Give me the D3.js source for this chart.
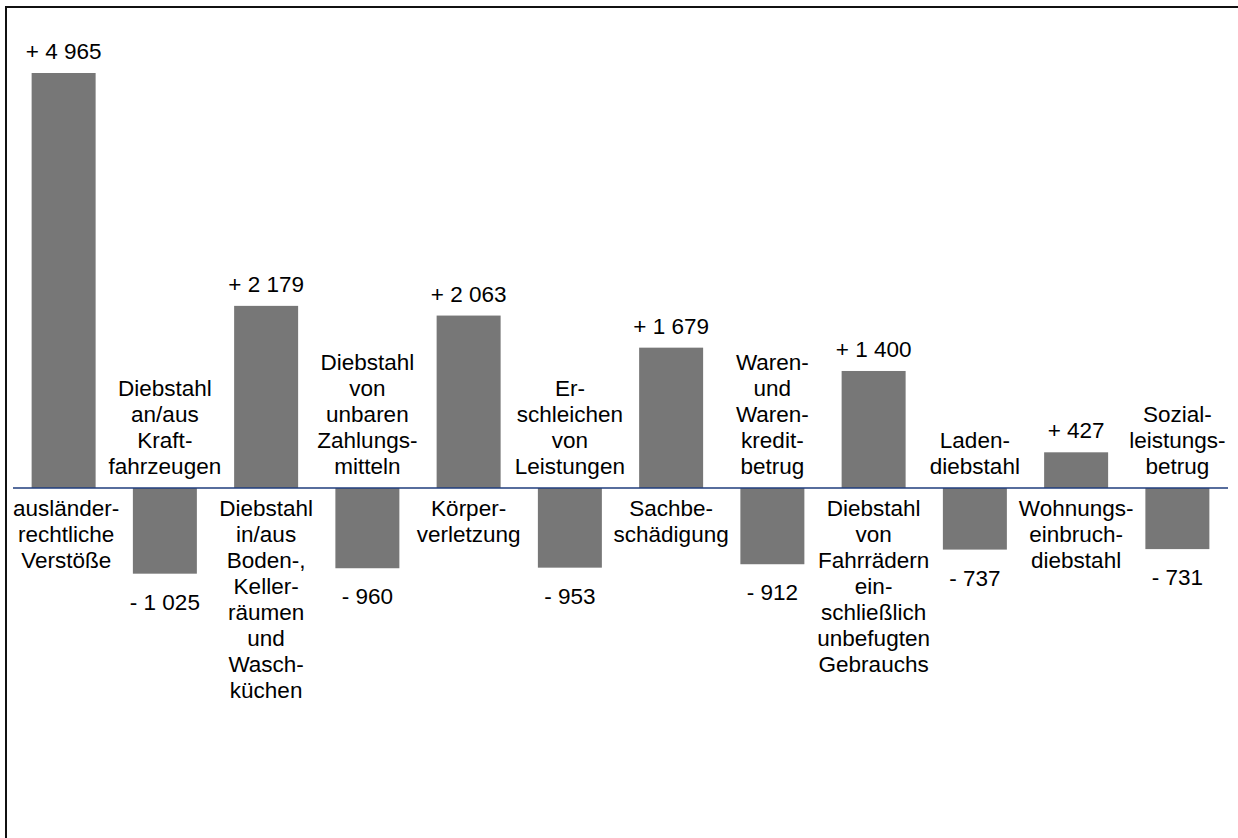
<!DOCTYPE html>
<html>
<head>
<meta charset="utf-8">
<script src="https://cdn.jsdelivr.net/npm/d3@7"></script>
<style>
  html, body { margin: 0; padding: 0; background: #fff; }
  svg { display: block; }
  text { font-family: "Liberation Sans", Arial, sans-serif; fill: #000; }
</style>
</head>
<body>
<script>
// Offence categories, each split into the lines shown under/over its bar
const categories = [
  ["ausländer-", "rechtliche", "Verstöße"],
  ["Diebstahl", "an/aus", "Kraft-", "fahrzeugen"],
  ["Diebstahl", "in/aus", "Boden-,", "Keller-", "räumen", "und", "Wasch-", "küchen"],
  ["Diebstahl", "von", "unbaren", "Zahlungs-", "mitteln"],
  ["Körper-", "verletzung"],
  ["Er-", "schleichen", "von", "Leistungen"],
  ["Sachbe-", "schädigung"],
  ["Waren-", "und", "Waren-", "kredit-", "betrug"],
  ["Diebstahl", "von", "Fahrrädern", "ein-", "schließlich", "unbefugten", "Gebrauchs"],
  ["Laden-", "diebstahl"],
  ["Wohnungs-", "einbruch-", "diebstahl"],
  ["Sozial-", "leistungs-", "betrug"]
];

// Change in number of cases
const changes = [4965, -1025, 2179, -960, 2063, -953, 1679, -912, 1400, -737, 427, -731];

const W = 1238, H = 838;
const fontSize = 22.5;
const lineH = 26;

const svg = d3.select("body").append("svg")
  .attr("width", W).attr("height", H);

// Frame
svg.append("rect")
  .attr("x", 6).attr("y", 7)
  .attr("width", W + 20).attr("height", H + 20)
  .attr("fill", "none").attr("stroke", "#111").attr("stroke-width", 2);

const ids = categories.map((c, i) => i);

const x = d3.scaleBand()
  .domain(ids)
  .range([13, 1228])
  .paddingInner(0.368)
  .paddingOuter(0.184);

const y = d3.scaleLinear()
  .domain([0, d3.max(changes)])
  .range([488, 73]);

const fmt = v => (v >= 0 ? "+ " : "- ") + d3.format(",")(Math.abs(v)).replace(/,/g, " ");

// Bars
svg.append("g").selectAll("rect")
  .data(changes)
  .join("rect")
  .attr("x", (d, i) => x(i))
  .attr("y", d => Math.min(y(d), y(0)))
  .attr("width", x.bandwidth())
  .attr("height", d => Math.abs(y(d) - y(0)))
  .attr("fill", "#777777");

// Zero line
svg.append("line")
  .attr("x1", x.range()[0]).attr("x2", x.range()[1])
  .attr("y1", y(0)).attr("y2", y(0))
  .attr("stroke", "#1f3c7c").attr("stroke-width", 1.6);

// Value labels
svg.append("g").selectAll("text")
  .data(changes)
  .join("text")
  .attr("x", (d, i) => x(i) + x.bandwidth() / 2)
  .attr("y", d => d >= 0 ? y(d) - 14 : y(d) + 36)
  .attr("text-anchor", "middle")
  .style("font-size", fontSize + "px")
  .text(fmt);

// Category labels: below the zero line for increases, above it for decreases
const catG = svg.append("g");
categories.forEach((lines, i) => {
  const v = changes[i];
  const cx = x(i) + x.bandwidth() / 2;
  const t = catG.append("text")
    .attr("text-anchor", "middle")
    .style("font-size", fontSize + "px");
  lines.forEach((ln, k) => {
    const yy = v >= 0
      ? y(0) + 28 + k * lineH
      : y(0) - 14 - (lines.length - 1 - k) * lineH;
    t.append("tspan").attr("x", cx).attr("y", yy).text(ln);
  });
  // keep the text inside the frame on the left
  const bb = t.node().getBBox();
  if (bb.x < 13) t.selectAll("tspan").attr("x", cx + (13 - bb.x));
});
</script>
</body>
</html>
